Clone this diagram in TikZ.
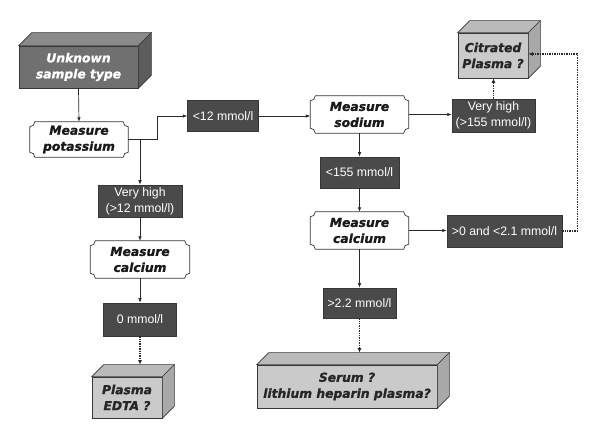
\documentclass[tikz,border=0pt]{standalone}
\usepackage{fontspec}
\setmainfont{Liberation Sans}
\newfontfamily\heavyfont[BoldItalicFeatures={FakeBold=1.2}]{DejaVu Sans}
\usetikzlibrary{calc,arrows.meta}
\definecolor{darkbox}{RGB}{74,74,74}
\definecolor{darkedge}{RGB}{55,55,55}
\definecolor{unkfront}{RGB}{112,112,112}
\definecolor{unktop}{RGB}{138,138,138}
\definecolor{unkside}{RGB}{92,92,92}
\definecolor{litefront}{RGB}{202,202,202}
\definecolor{litetop}{RGB}{186,186,186}
\definecolor{liteside}{RGB}{168,168,168}
\definecolor{lineclr}{RGB}{40,40,40}
\tikzset{
  valbox/.style={fill=darkbox, draw=darkedge, line width=0.5pt, text=white,
    font=\fontsize{12.3}{16}\selectfont, align=center, inner sep=0pt},
  measbox/.style={font=\heavyfont\bfseries\itshape\fontsize{12.3}{16}\selectfont,
    align=center, inner sep=0pt, text=black!90},
  cubebox/.style={draw=darkedge, line width=0.6pt, align=center, inner sep=0pt,
    font=\heavyfont\bfseries\itshape\fontsize{12.3}{16}\selectfont},
  cubeedge/.style={draw=darkedge, line width=0.6pt},
  scrollline/.style={draw=darkedge, line width=0.7pt},
  conn/.style={draw=lineclr, line width=0.7pt, -{Latex[length=4.5pt,width=3.5pt]}},
  dotconn/.style={draw=lineclr, line width=1.4pt, densely dotted, -{Latex[length=4.5pt,width=4pt]}}
}
\newcommand\scrollbox[1]{%
  \draw[scrollline] ([xshift=5pt]#1.north west) -- ([xshift=-5pt]#1.north east)
    arc[start angle=180,end angle=270,radius=5pt] -- ([yshift=5pt]#1.south east)
    arc[start angle=90,end angle=180,radius=5pt] -- ([xshift=5pt]#1.south west)
    arc[start angle=0,end angle=90,radius=5pt] -- ([yshift=-5pt]#1.north west)
    arc[start angle=270,end angle=360,radius=5pt] -- cycle;}
\newcommand\cubeparts[4]{%
  \draw[cubeedge, fill=#3] (#1.north west) -- ++(#2,-#2) -- ([shift={(#2,-#2)}]#1.north east) -- (#1.north east) -- cycle;
  \draw[cubeedge, fill=#4] (#1.north east) -- ++(#2,-#2) -- ([shift={(#2,-#2)}]#1.south east) -- (#1.south east) -- cycle;}
\begin{document}
\begin{tikzpicture}[x=1pt,y=-1pt]
\fill[white] (0,0) rectangle (590,430);
\useasboundingbox (0,0) rectangle (590,430);

% 3D boxes
\node[cubebox, fill=unkfront, text=white, minimum width=119pt, minimum height=42pt] (unk) at (78.5,67) {Unknown\\sample type};
\cubeparts{unk}{13}{unktop}{unkside}
\node[cubebox, fill=litefront, text=black!85, minimum width=70pt, minimum height=45pt] (cit) at (493,55.5) {Citrated\\Plasma ?};
\cubeparts{cit}{12}{litetop}{liteside}
\node[cubebox, fill=litefront, text=black!85, minimum width=70pt, minimum height=41pt] (edta) at (127,397.5) {Plasma\\EDTA ?};
\cubeparts{edta}{12}{litetop}{liteside}
\node[cubebox, fill=litefront, text=black!85, minimum width=180pt, minimum height=43pt] (serum) at (347,386.5) {Serum ?\\lithium heparin plasma?};
\cubeparts{serum}{12}{litetop}{liteside}

% measure shapes
\node[measbox, minimum width=98pt, minimum height=35pt] (pot) at (79,139.5) {Measure\\potassium};
\scrollbox{pot}
\node[measbox, minimum width=98pt, minimum height=37pt] (sod) at (359.5,114.5) {Measure\\sodium};
\scrollbox{sod}
\node[measbox, minimum width=98pt, minimum height=37pt] (calM) at (359.5,230.5) {Measure\\calcium};
\scrollbox{calM}
\node[measbox, minimum width=99pt, minimum height=37pt] (calL) at (140,259.5) {Measure\\calcium};
\scrollbox{calL}

% value boxes
\node[valbox, minimum width=71pt, minimum height=31pt] (lt12) at (223,116) {<12 mmol/l};
\node[valbox, minimum width=84pt, minimum height=32pt] (vh12) at (140,201) {Very high\\(>12 mmol/l)};
\node[valbox, minimum width=73pt, minimum height=33pt] (zero) at (140,319.5) {0 mmol/l};
\node[valbox, minimum width=79pt, minimum height=31pt] (lt155) at (359.5,172.5) {<155 mmol/l};
\node[valbox, minimum width=73pt, minimum height=30pt] (gt22) at (359.5,303) {>2.2 mmol/l};
\node[valbox, minimum width=83pt, minimum height=33pt] (vh155) at (493.5,115.5) {Very high\\(>155 mmol/l)};
\node[valbox, minimum width=115pt, minimum height=32pt] (betw) at (504.5,231) {>0 and <2.1 mmol/l};

% connectors
\draw[conn] (unk.south) -- (pot.north);
\coordinate (potj) at (pot.east -| vh12.north);
\coordinate (potk) at ([xshift=29pt]pot.east);
\draw[conn] (pot.east) -- (potk) |- (lt12.west);
\draw[conn] (potj) -- (vh12.north);
\draw[conn] (vh12.south) -- (calL.north);
\draw[conn] (calL.south) -- (zero.north);
\coordinate (edtatop) at ([yshift=12pt]edta.north);
\draw[dotconn] (zero.south) -- (zero.south |- edtatop);
\draw[conn] (lt12.east) -- (sod.west |- lt12.east);
\draw[conn] (sod.east) -- (vh155.west |- sod.east);
\draw[dotconn] (vh155.north) -- (vh155.north |- cit.south);
\draw[conn] (sod.south) -- (lt155.north);
\draw[conn] (lt155.south) -- (calM.north);
\draw[conn] (calM.east) -- (betw.west |- calM.east);
\draw[conn] (calM.south) -- (gt22.north);
\coordinate (serumtop) at ([yshift=12pt]serum.north);
\draw[dotconn] (gt22.south) -- (gt22.south |- serumtop);
\coordinate (retx) at ([xshift=15pt]betw.east);
\draw[dotconn] (betw.east) -- (retx) |- ([yshift=1.5pt]cit.east);
\end{tikzpicture}
\end{document}
